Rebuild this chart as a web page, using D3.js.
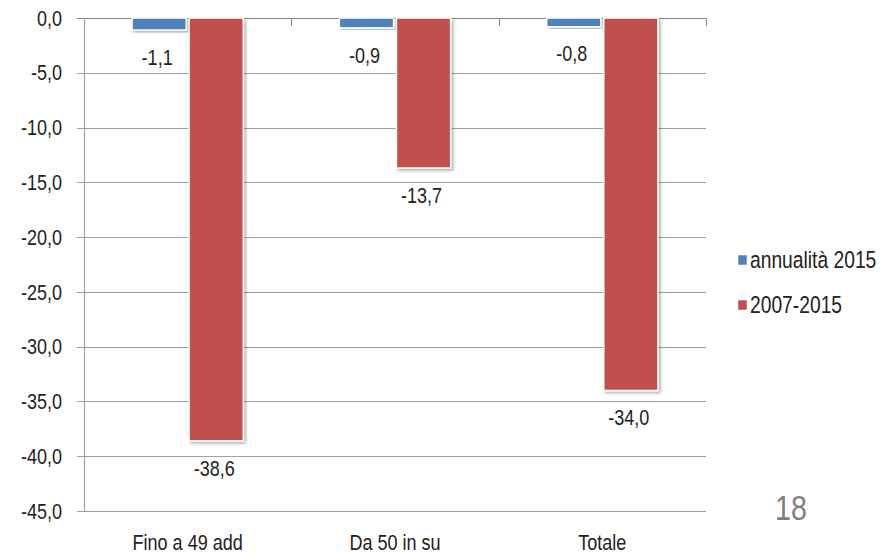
<!DOCTYPE html>
<html>
<head>
<meta charset="utf-8">
<script src="https://cdn.jsdelivr.net/npm/d3@7"></script>
<style>
  html, body { margin: 0; padding: 0; background: #ffffff; }
  svg { display: block; }
  text { font-family: "Liberation Sans", Arial, sans-serif; fill: #222; }
</style>
</head>
<body>
<svg id="chart" width="891" height="554"></svg>
<script>
const categories = ["Fino a 49 add", "Da 50 in su", "Totale"];
const seriesNames = ["annualità 2015", "2007-2015"];
const annualita2015 = [-1.1, -0.9, -0.8];
const periodo2007_2015 = [-38.6, -13.7, -34.0];
const yTicks = [0, -5, -10, -15, -20, -25, -30, -35, -40, -45];
const colors = ["#4F81BD", "#C0504D"];
const pageNumber = "18";

const seriesValues = [annualita2015, periodo2007_2015];
const fmt = v => d3.format(".1f")(v).replace(".", ",").replace("−", "-");
const SX = 0.82;
const narrow = (sel, fx, fy) => sel.attr("transform", (d, i) => `translate(${fx(d, i)},${fy(d, i)}) scale(${SX},1)`);

const svg = d3.select("#chart");
const plotLeft = 84, plotRight = 706, plotTop = 18, plotBottom = 511;

const y = d3.scaleLinear().domain([-45, 0]).range([plotBottom, plotTop]);
const x0 = d3.scaleBand().domain(categories).range([plotLeft, plotRight])
  .paddingInner(0.436).paddingOuter(0.218);
const x1 = d3.scaleBand().domain(seriesNames).range([0, x0.bandwidth()]).padding(0.05);

const defs = svg.append("defs");
const f = defs.append("filter").attr("id", "shadow")
  .attr("x", "-10%").attr("y", "-10%").attr("width", "130%").attr("height", "130%");
f.append("feDropShadow").attr("dx", 2).attr("dy", 2).attr("stdDeviation", 1.5)
  .attr("flood-color", "#000").attr("flood-opacity", 0.3);

// gridlines
svg.append("g").selectAll("line").data(yTicks).join("line")
  .attr("x1", plotLeft - 7).attr("x2", plotRight)
  .attr("y1", d => Math.round(y(d)) + 0.5).attr("y2", d => Math.round(y(d)) + 0.5)
  .attr("stroke", d => d === 0 ? "#868686" : "#a0a0a0").attr("stroke-width", 1.2);

// y axis labels
svg.append("g").selectAll("text").data(yTicks).join("text")
  .call(narrow, () => 62, d => y(d))
  .attr("dy", "0.35em")
  .attr("text-anchor", "end").attr("font-size", 22)
  .text(d => fmt(d));

// left axis line
svg.append("line").attr("x1", plotLeft + 0.5).attr("x2", plotLeft + 0.5)
  .attr("y1", plotTop).attr("y2", plotBottom + 1)
  .attr("stroke", "#a0a0a0").attr("stroke-width", 1.2);

// top category tick marks
const bounds = categories.map((c, i) => x0(c) + x0.bandwidth() / 2 + x0.step() / 2);
svg.append("g").selectAll("line").data(bounds).join("line")
  .attr("x1", d => Math.round(d) + 0.5).attr("x2", d => Math.round(d) + 0.5)
  .attr("y1", plotTop).attr("y2", plotTop + 8)
  .attr("stroke", "#8a8a8a").attr("stroke-width", 1.2);

// bars
const groups = svg.append("g").selectAll("g").data(categories).join("g")
  .attr("transform", c => `translate(${x0(c)},0)`);

groups.each(function(c, ci) {
  const g = d3.select(this);
  seriesNames.forEach((s, si) => {
    const v = seriesValues[si][ci];
    g.append("rect")
      .attr("x", x1(s)).attr("y", y(0))
      .attr("width", x1.bandwidth()).attr("height", y(v) - y(0))
      .attr("fill", colors[si]).attr("stroke", "#ffffff").attr("stroke-width", 1.5)
      .attr("filter", "url(#shadow)");
    g.append("text")
      .attr("transform", `translate(${x1(s) + x1.bandwidth() / 2 - 2},${y(v) + 27}) scale(${SX},1)`)
      .attr("dy", "0.35em")
      .attr("text-anchor", "middle").attr("font-size", 22)
      .text(fmt(v));
  });
});

// category labels
svg.append("g").selectAll("text").data(categories).join("text")
  .call(narrow, c => x0(c) + x0.bandwidth() / 2, () => 550)
  .attr("text-anchor", "middle").attr("font-size", 22)
  .text(c => c);

// legend
const legend = svg.append("g").selectAll("g").data(seriesNames).join("g")
  .attr("transform", (d, i) => `translate(738, ${260 + i * 45})`);
legend.append("rect").attr("x", 0).attr("y", -5).attr("width", 9).attr("height", 10)
  .attr("fill", (d, i) => colors[i]).attr("stroke", "#ffffff").attr("stroke-width", 0.5);
legend.append("text").attr("transform", `translate(12,0) scale(${SX},1)`).attr("dy", "0.35em")
  .attr("font-size", 23.5).text(d => d);

// page number
svg.append("text").attr("transform", `translate(791,508) scale(${SX},1)`).attr("dy", "0.35em")
  .attr("text-anchor", "middle").attr("font-size", 35)
  .style("fill", "#7f7f7f").text(pageNumber);
</script>
</body>
</html>
